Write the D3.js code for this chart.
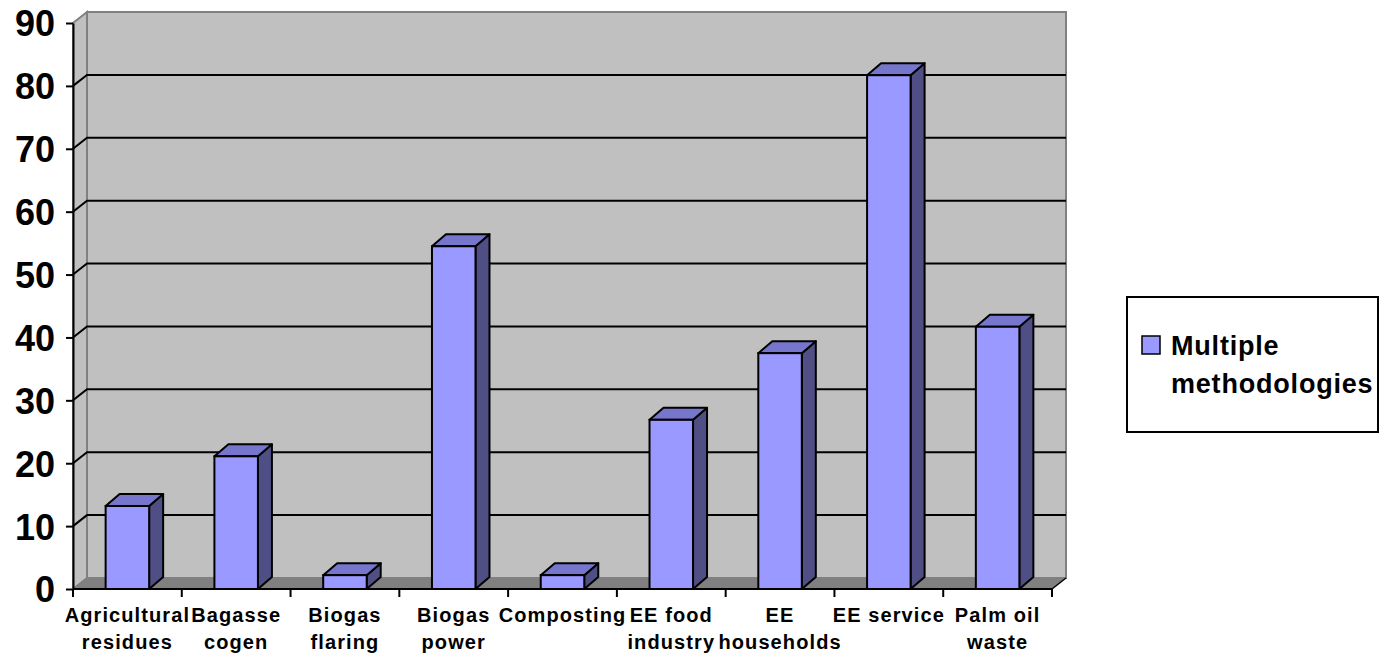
<!DOCTYPE html>
<html>
<head>
<meta charset="utf-8">
<script src="https://cdn.jsdelivr.net/npm/d3@7"></script>
<style>
  body { margin: 0; background: #fff; }
  svg text { font-family: Arial, "Liberation Sans", sans-serif; font-weight: bold; fill: #000; }
</style>
</head>
<body>
<svg id="chart" width="1380" height="655"></svg>
<script>
// chart data
var categories = [
    ["Agricultural", "residues"],
    ["Bagasse", "cogen"],
    ["Biogas", "flaring"],
    ["Biogas", "power"],
    ["Composting"],
    ["EE food", "industry"],
    ["EE", "households"],
    ["EE service"],
    ["Palm oil", "waste"]
];
var values = [13.2, 21.1, 2.2, 54.5, 2.2, 26.9, 37.5, 81.7, 41.7];
var yTicks = [0, 10, 20, 30, 40, 50, 60, 70, 80, 90];
var seriesName = ["Multiple", "methodologies"];

var svg = d3.select("#chart");

// plot box (front plane) and 3d depth
var plotL = 73, plotR = 1052, plotT = 23, plotB = 589;
var dx = 14, dy = -11;      // wall depth
var bdx = 14, bdy = -12;    // bar depth

var x = d3.scaleBand()
    .domain(d3.range(categories.length))
    .range([plotL, plotR])
    .padding(0);
var y = d3.scaleLinear().domain([0, 90]).range([plotB, plotT]);

var barW = x.bandwidth() / 2.5;

// walls
var walls = svg.append("g");
// left side wall
walls.append("polygon")
    .attr("points", [[plotL, y(90)], [plotL + dx, y(90) + dy], [plotL + dx, y(0) + dy], [plotL, y(0)]].join(" "))
    .attr("fill", "#c0c0c0").attr("stroke", "#808080").attr("stroke-width", 2);
// back wall
walls.append("rect")
    .attr("x", plotL + dx).attr("y", y(90) + dy)
    .attr("width", plotR - plotL).attr("height", y(0) - y(90))
    .attr("fill", "#c0c0c0").attr("stroke", "#808080").attr("stroke-width", 2);
// floor
walls.append("polygon")
    .attr("points", [[plotL, y(0)], [plotR, y(0)], [plotR + dx, y(0) + dy], [plotL + dx, y(0) + dy]].join(" "))
    .attr("fill", "#808080").attr("stroke", "none");
walls.append("line")
    .attr("x1", plotR).attr("y1", y(0)).attr("x2", plotR + dx).attr("y2", y(0) + dy)
    .attr("stroke", "#000").attr("stroke-width", 1.5);

// gridlines (left wall diagonal + back wall)
var grid = svg.append("g");
grid.selectAll("path")
    .data(yTicks.filter(function(d){ return d > 0 && d < 90; }))
    .enter().append("path")
    .attr("d", function(d){
        return "M" + plotL + "," + y(d) + "L" + (plotL + dx) + "," + (y(d) + dy) + "H" + (plotR + dx);
    })
    .attr("fill", "none").attr("stroke", "#000").attr("stroke-width", 2);

// bars
var bars = svg.append("g").selectAll("g")
    .data(values)
    .enter().append("g");

bars.each(function(v, i){
    var g = d3.select(this);
    var x0 = x(i) + (x.bandwidth() - barW) / 2, x1 = x0 + barW;
    var yt = y(v), yb = y(0);
    // side
    g.append("polygon")
        .attr("points", [[x1, yt], [x1 + bdx, yt + bdy], [x1 + bdx, yb + bdy], [x1, yb]].join(" "))
        .attr("fill", "#4f4f85").attr("stroke", "#000").attr("stroke-width", 2).attr("stroke-linejoin", "round");
    // top
    g.append("polygon")
        .attr("points", [[x0, yt], [x0 + bdx, yt + bdy], [x1 + bdx, yt + bdy], [x1, yt]].join(" "))
        .attr("fill", "#7676cc").attr("stroke", "#000").attr("stroke-width", 2).attr("stroke-linejoin", "round");
    // front
    g.append("rect")
        .attr("x", x0).attr("y", yt).attr("width", barW).attr("height", yb - yt)
        .attr("fill", "#9999ff").attr("stroke", "#000").attr("stroke-width", 2);
});

// y axis
var yAxis = svg.append("g")
    .attr("transform", "translate(" + plotL + ",0)")
    .call(d3.axisLeft(y).tickValues(yTicks).tickSize(7).tickSizeOuter(0).tickPadding(11));
yAxis.attr("font-family", null).attr("font-size", null);
yAxis.select(".domain").attr("stroke", "#000").attr("stroke-width", 2);
yAxis.selectAll(".tick line").attr("stroke", "#000").attr("stroke-width", 2);
yAxis.selectAll(".tick text")
    .attr("font-size", 36).attr("dy", "0.36em");

// x axis line and ticks at category boundaries
var xAxis = svg.append("g");
xAxis.append("line")
    .attr("x1", plotL).attr("x2", plotR).attr("y1", y(0)).attr("y2", y(0))
    .attr("stroke", "#000").attr("stroke-width", 2);
xAxis.selectAll(".xt")
    .data(d3.range(categories.length + 1))
    .enter().append("line")
    .attr("class", "xt")
    .attr("x1", function(i){ return plotL + i * x.step(); })
    .attr("x2", function(i){ return plotL + i * x.step(); })
    .attr("y1", y(0)).attr("y2", y(0) + 8)
    .attr("stroke", "#000").attr("stroke-width", 2);

// category labels
var labels = xAxis.selectAll(".xl")
    .data(categories)
    .enter().append("text")
    .attr("class", "xl")
    .attr("text-anchor", "middle")
    .attr("font-size", 20)
    .attr("letter-spacing", 1.1)
    .attr("transform", function(d, i){ return "translate(" + (x(i) + x.bandwidth() / 2) + "," + (y(0) + 33) + ")"; });
labels.selectAll("tspan")
    .data(function(d){ return d; })
    .enter().append("tspan")
    .attr("x", 0)
    .attr("dy", function(d, j){ return j === 0 ? 0 : 27; })
    .text(function(d){ return d; });

// legend
var legend = svg.append("g");
legend.append("rect")
    .attr("x", 1127).attr("y", 297).attr("width", 251).attr("height", 135)
    .attr("fill", "#fff").attr("stroke", "#000").attr("stroke-width", 2);
legend.append("rect")
    .attr("x", 1142).attr("y", 336).attr("width", 18).attr("height", 18)
    .attr("fill", "#9999ff").attr("stroke", "#000").attr("stroke-width", 1.5);
legend.append("text")
    .attr("x", 1171).attr("y", 355)
    .attr("font-size", 27)
    .attr("letter-spacing", 0.8)
    .selectAll("tspan")
    .data(seriesName)
    .enter().append("tspan")
    .attr("x", 1171)
    .attr("dy", function(d, j){ return j === 0 ? 0 : 38; })
    .text(function(d){ return d; });
</script>
</body>
</html>
